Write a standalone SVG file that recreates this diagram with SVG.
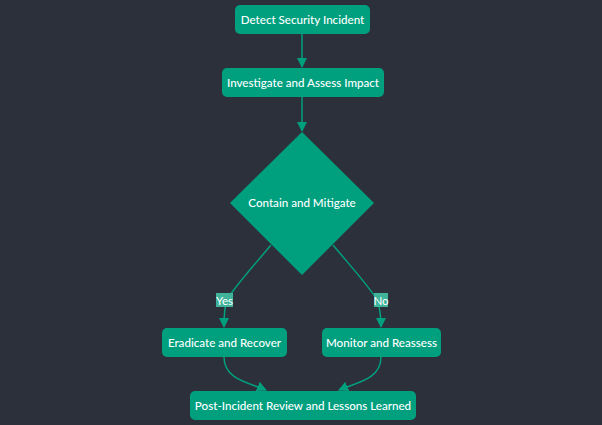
<svg xmlns="http://www.w3.org/2000/svg" width="602" height="425" viewBox="0 0 602 425">
<style>
.n{fill:#00a07f;}
.t{fill:#ffffff;font-family:Lato,"DejaVu Sans",sans-serif;font-size:11.6px;font-weight:500;text-anchor:middle;dominant-baseline:central;}
.e{fill:none;stroke:#00a07f;stroke-width:1.5;}
.lb{fill:#3fb49b;}
.lt{fill:#ffffff;font-family:Lato,"DejaVu Sans",sans-serif;font-size:11.6px;text-anchor:middle;dominant-baseline:central;}
</style>
<defs>
<marker id="ah" viewBox="0 0 10 10" refX="9" refY="5" markerWidth="10" markerHeight="10" markerUnits="userSpaceOnUse" orient="auto">
<path d="M0,0 L10,5 L0,10 z" fill="#00a07f"/>
</marker>
</defs>
<rect width="602" height="425" fill="#2b303b"/>
<g id="edges">
<path class="e" d="M302,34 L302,67" marker-end="url(#ah)"/>
<path class="e" d="M302,97 L302,131" marker-end="url(#ah)"/>
<path class="e" d="M271,245 C250,270 232,290 227,300 C224,308 224,318 224,327" marker-end="url(#ah)"/>
<path class="e" d="M333,245 C354,270 372,290 377,300 C380,308 381,318 381,327" marker-end="url(#ah)"/>
<path class="e" d="M224,357 C224,380 250,383 266,390" marker-end="url(#ah)"/>
<path class="e" d="M381,357 C381,380 355,383 339,390" marker-end="url(#ah)"/>
<rect class="lb" x="216" y="293" width="17" height="14"/>
<text class="lt" x="224.5" y="300">Yes</text>
<rect class="lb" x="374" y="293" width="14" height="14"/>
<text class="lt" x="381" y="300">No</text>
</g>
<g id="detect">
<rect class="n" x="235" y="5" width="135" height="29" rx="5"/>
<text class="t" x="302.5" y="19.5">Detect Security Incident</text>
</g>
<g id="investigate">
<rect class="n" x="222" y="68" width="162" height="29" rx="5"/>
<text class="t" x="303" y="82.5">Investigate and Assess Impact</text>
</g>
<g id="contain">
<polygon class="n" points="302,132 374,203 302,275 230,203"/>
<text class="t" x="302" y="202">Contain and Mitigate</text>
</g>
<g id="eradicate">
<rect class="n" x="162" y="328" width="125" height="29" rx="5"/>
<text class="t" x="224.5" y="342">Eradicate and Recover</text>
</g>
<g id="monitor">
<rect class="n" x="322" y="328" width="119" height="29" rx="5"/>
<text class="t" x="381.5" y="342">Monitor and Reassess</text>
</g>
<g id="review">
<rect class="n" x="190" y="391" width="226" height="29" rx="5"/>
<text class="t" x="303" y="405">Post-Incident Review and Lessons Learned</text>
</g>
</svg>
